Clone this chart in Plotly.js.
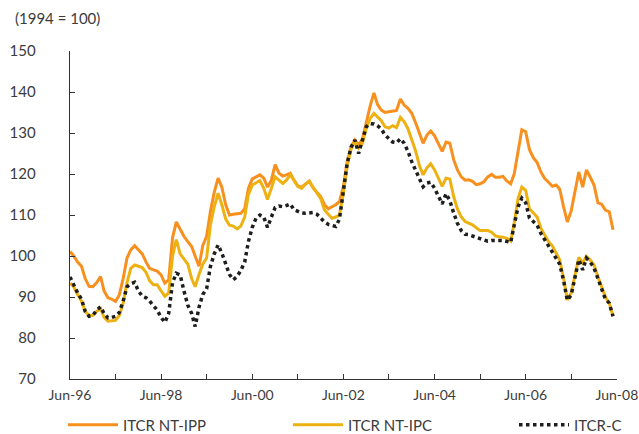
<!DOCTYPE html>
<html>
<head>
<meta charset="utf-8">
<script src="https://cdn.plot.ly/plotly-3.0.1.min.js"></script>
<style>html,body{margin:0;padding:0;background:#fff;}#chart{width:639px;height:434px;}</style>
</head>
<body>
<div id="chart"></div>
<script>
// Monthly series, Jun-1996 .. May-2008 (index 1994 = 100)
var startMonth = "1996-06";
var seriesNames = ["ITCR NT-IPP", "ITCR NT-IPC", "ITCR-C"];
var itcrNtIpp = [
101.1,100.0,98.5,97.5,94.5,92.6,92.5,93.5,95.0,91.5,89.8,89.5,88.9,90.5,94.5,99.5,101.5,102.5,101.5,100.5,
98.5,97.0,96.6,96.3,95.4,93.4,94.2,104.5,108.3,106.5,104.8,103.5,102.3,100.0,97.5,102.5,104.8,110.8,115.5,119.0,
116.8,112.5,110.0,110.2,110.3,110.4,111.5,116.5,118.8,119.3,119.8,119.0,116.8,118.5,122.3,120.2,119.5,119.8,120.2,118.5,
117.1,116.8,117.5,118.3,116.6,115.5,114.5,112.5,111.5,112.0,112.5,113.3,116.9,123.0,126.5,128.3,127.1,128.5,132.5,136.5,
139.8,137.0,135.6,135.0,135.2,135.3,135.5,138.3,136.8,136.0,134.8,132.5,129.8,127.5,129.5,130.5,129.3,127.5,125.5,127.8,
127.5,123.5,121.0,119.3,118.5,118.6,118.2,117.4,117.6,118.1,119.3,119.9,119.2,119.2,119.4,118.3,117.6,120.0,126.0,130.8,
130.3,126.0,124.0,122.8,120.5,118.9,118.0,117.0,117.3,116.3,112.0,108.3,111.0,115.5,120.5,116.8,121.0,119.2,117.3,113.0,
112.6,111.2,110.8,106.4];
var itcrNtIpc = [
93.4,92.5,90.6,89.0,86.5,85.5,85.5,86.5,87.2,85.0,84.1,84.2,84.3,85.5,88.5,93.5,97.0,97.8,97.5,97.2,
96.0,94.0,93.0,93.0,91.5,90.2,91.0,100.0,104.0,100.5,99.3,98.0,94.5,92.5,95.5,98.0,99.5,107.5,112.0,115.3,
112.5,109.0,107.5,107.3,106.6,107.3,109.5,115.0,117.3,117.8,118.4,116.5,113.8,116.5,119.3,118.5,117.7,118.5,119.8,118.5,
117.0,116.5,117.5,118.2,116.7,115.5,114.0,111.2,110.0,109.2,109.5,110.0,115.3,122.0,126.0,127.9,126.3,127.5,131.2,133.5,
134.8,134.0,133.0,131.5,131.2,131.8,131.3,133.8,132.8,131.0,128.5,125.6,122.0,119.8,121.5,122.5,121.0,119.2,117.0,119.0,
118.8,114.5,111.5,109.5,108.4,108.0,107.6,106.9,106.2,106.2,106.2,105.8,104.9,104.7,104.6,104.3,103.6,108.0,114.0,116.8,
116.0,111.5,110.6,109.5,106.8,105.0,103.5,102.5,100.5,99.0,94.5,89.3,91.0,95.5,99.7,98.3,99.9,99.0,97.8,95.0,
92.5,90.0,88.5,85.3];
var itcrC = [
94.9,92.8,91.0,89.5,86.5,85.3,85.5,86.8,87.6,86.0,84.9,85.0,85.3,86.2,89.0,92.5,93.2,93.6,91.5,90.2,
89.8,89.0,88.0,86.8,85.0,83.8,86.0,93.5,95.8,95.4,91.5,88.0,86.0,82.8,87.5,90.6,92.0,97.4,100.5,102.7,
100.7,98.0,95.5,94.2,95.0,96.5,98.5,103.5,107.0,109.2,110.0,109.5,107.0,109.5,111.8,112.2,112.0,112.3,112.7,111.3,
110.8,110.5,110.4,110.5,110.6,110.2,109.3,108.3,107.7,107.4,107.2,109.0,115.5,122.5,126.5,128.3,125.0,128.0,131.5,132.3,
132.2,131.8,131.0,129.5,128.5,127.8,127.6,128.6,127.5,125.5,123.0,121.0,118.5,116.9,117.8,118.0,116.5,114.5,112.7,115.2,
113.5,110.5,108.0,106.2,105.3,105.2,104.9,104.6,104.4,104.0,103.6,103.8,103.9,103.8,103.8,103.6,103.3,107.5,112.0,114.1,
113.0,109.3,108.5,107.5,105.5,104.0,102.6,101.0,99.5,98.0,94.0,89.2,90.5,95.0,99.1,96.6,99.5,98.5,97.1,94.5,
92.0,89.5,88.5,85.3];
var yTickVals = [70, 80, 90, 100, 110, 120, 130, 140, 150];
var xTickVals = ["1996-06-01","1998-06-01","2000-06-01","2002-06-01","2004-06-01","2006-06-01","2008-06-01"];
var xTickText = ["Jun-96","Jun-98","Jun-00","Jun-02","Jun-04","Jun-06","Jun-08"];
var unitLabel = "(1994 = 100)";

function monthDates(start, n) {
  var p = start.split("-"), y = +p[0], m = +p[1] - 1, out = [];
  for (var i = 0; i < n; i++) {
    var yy = y + Math.floor((m + i) / 12), mm = (m + i) % 12 + 1;
    out.push(yy + "-" + (mm < 10 ? "0" : "") + mm + "-01");
  }
  return out;
}
var dates = monthDates(startMonth, itcrNtIpp.length);

var FONT = "Lato, 'Open Sans', sans-serif";
var TXT = "#3c3c3c";
var traces = [
  {x: dates, y: itcrNtIpp, name: seriesNames[0], mode: "lines", legend: "legend", line: {color: "#F7901E", width: 3}},
  {x: dates, y: itcrNtIpc, name: seriesNames[1], mode: "lines", legend: "legend2", line: {color: "#EDB211", width: 3}},
  {x: dates, y: itcrC, name: seriesNames[2], mode: "lines", legend: "legend3", line: {color: "#1e1e1e", width: 3.5, dash: "dot"}}
];

function leg(px) {
  return {xref: "container", yref: "container", x: px / 639, y: 1 - 425 / 434, xanchor: "left", yanchor: "middle",
          orientation: "h", itemwidth: 50, font: {family: FONT, size: 15, color: TXT}, bgcolor: "rgba(0,0,0,0)"};
}

var layout = {
  width: 639, height: 434,
  margin: {l: 70, r: 22, t: 51, b: 55},
  paper_bgcolor: "#fff", plot_bgcolor: "#fff",
  font: {family: FONT, size: 15, color: TXT},
  showlegend: true,
  legend: leg(63), legend2: leg(288), legend3: leg(514),
  xaxis: {
    type: "date", range: ["1996-06-01", "2008-06-02"],
    tickvals: xTickVals, ticktext: xTickText,
    ticks: "inside", ticklen: 5, tickcolor: "#333", tickwidth: 1,
    minor: {dtick: "M12", tick0: "1996-06-01", ticks: "inside", ticklen: 5, tickcolor: "#333", showgrid: false},
    showline: true, linecolor: "#333", linewidth: 1.3,
    showgrid: false, zeroline: false, ticklabelstandoff: 3,
    ticklabeloverflow: "allow", tickfont: {size: 14}, automargin: false
  },
  yaxis: {
    range: [70, 150], tickvals: yTickVals,
    ticks: "inside", ticklen: 5, tickcolor: "#333",
    showline: true, linecolor: "#333", linewidth: 1.3,
    showgrid: false, zeroline: false, ticklabelstandoff: 30,
    tickfont: {size: 15}, automargin: false
  },
  annotations: [{text: unitLabel, xref: "paper", yref: "paper", x: -0.104, y: 1.10,
                 xanchor: "left", yanchor: "middle", showarrow: false, font: {size: 15, color: TXT}}]
};
Plotly.newPlot("chart", traces, layout, {staticPlot: true, displayModeBar: false});
</script>
</body>
</html>
